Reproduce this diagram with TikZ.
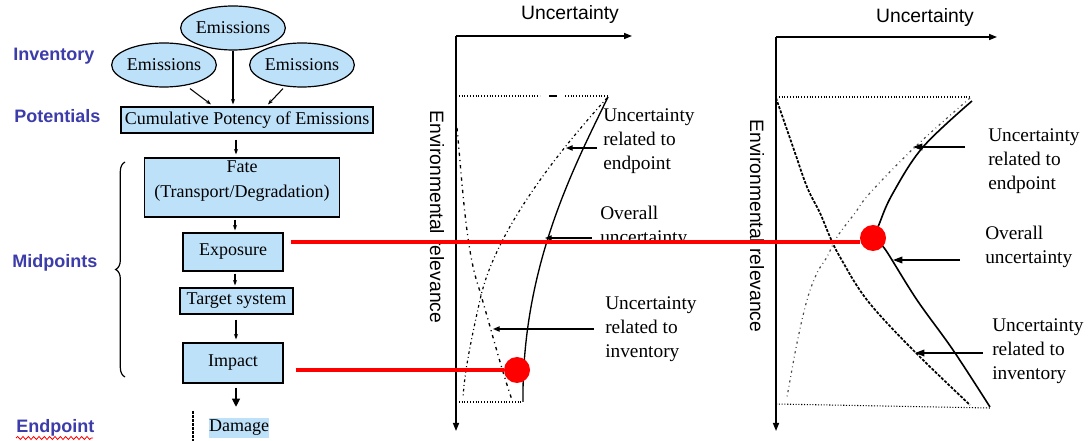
\documentclass[tikz,border=0pt]{standalone}
\usepackage{fontspec}
\setmainfont{Liberation Serif}
\setsansfont{Liberation Sans}
\usetikzlibrary{arrows.meta,shapes.geometric,calc,decorations.pathreplacing,decorations.pathmorphing}
\definecolor{boxblue}{RGB}{190,225,250}
\definecolor{labblue}{RGB}{60,60,170}
\tikzset{
  boxfont/.style={font=\fontsize{13.5}{18.75}\selectfont},
  box/.style={draw, line width=0.9pt, fill=boxblue, inner sep=0pt, boxfont, align=center},
  ell/.style={ellipse, draw, line width=0.9pt, fill=boxblue, minimum width=70.5pt, minimum height=33pt, inner sep=0pt, boxfont},
  stage/.style={font=\sffamily\bfseries\fontsize{13.5}{16}\selectfont, text=labblue, anchor=west, inner sep=0pt},
  note/.style={font=\fontsize{14.5}{18}\selectfont, align=left, anchor=west, inner sep=0pt},
  axlab/.style={font=\sffamily\fontsize{14.5}{17}\selectfont, inner sep=0pt},
  conn/.style={line width=0.8pt, -{Stealth[length=4pt,width=3pt]}},
  bigconn/.style={line width=0.8pt, -{Triangle[length=6pt,width=6pt]}},
  axis/.style={line width=1.1pt, -{Triangle[length=6pt,width=4.5pt]}},
  pointer/.style={line width=1pt, -{Triangle[length=5pt,width=4pt]}},
  bigpointer/.style={line width=1pt, -{Triangle[length=7pt,width=5pt]}},
  guide/.style={line width=0.8pt, dash pattern=on 0.8pt off 1.3pt},
  overall/.style={line width=1pt},
  redline/.style={red, line width=2.3pt},
  reddot/.style={circle, fill=red, minimum size=19.5pt, inner sep=0pt},
  cA/.style={line width=0.9pt, dash pattern=on 2pt off 2.2pt on 0.7pt off 2.2pt},
  cB/.style={line width=1pt, dash pattern=on 2.5pt off 3pt on 0.8pt off 3pt},
  cC/.style={line width=0.9pt, black!70, dash pattern=on 1.6pt off 2.6pt on 0.6pt off 2.6pt},
  cD/.style={line width=1.3pt, dash pattern=on 2.2pt off 1.1pt}
}
\begin{document}
\begin{tikzpicture}[x=0.75pt,y=-0.75pt]
\fill[white] (0,0) rectangle (1089,441);
\useasboundingbox (0,0) rectangle (1089,441);

% ---------- stage labels ----------
\node[stage] (linv) at (13,56) {Inventory};
\node[stage] (lpot) at (14,116) {Potentials};
\node[stage] (lmid) at (12,263) {Midpoints};
\node[stage] (lend) at (16,428) {Endpoint};
\draw[red, line width=0.6pt, decorate, decoration={snake, amplitude=1.1pt, segment length=4pt}] (16,438) -- (93,438);

% ---------- left flow ----------
\node[ell] (e0) at (233,28) {Emissions};
\node[ell] (e1) at (164,65) {Emissions};
\node[ell] (e2) at (302,65) {Emissions};

\node[box, minimum width=189pt, minimum height=19.5pt] (cum) at (247,120) {Cumulative Potency of Emissions};
\node[box, minimum width=146.25pt, minimum height=44.25pt] (fate) at (242,187.5) {};
\node[boxfont, align=center, inner sep=0pt] (fatetxt) at (242,181) {Fate\\(Transport/Degradation)};
\node[box, minimum width=75pt, minimum height=28.5pt] (exp) at (233,252) {Exposure};
\node[box, minimum width=84.75pt, minimum height=19.5pt] (tgt) at (236.5,301) {Target system};
\node[box, minimum width=75pt, minimum height=30pt] (imp) at (233,363) {\raisebox{4pt}{Impact}};
\node[fill=boxblue, minimum width=43.5pt, minimum height=15pt, inner sep=0pt, boxfont] (dam) at (239,428) {Damage};
\draw[line width=1.2pt, dash pattern=on 2pt off 1pt] (193,411) -- (193,441);

\draw[conn] ($(e1.south)+(26,1)$) -- ($(cum.north)+(-36,-2)$);
\draw[conn] (e0.south) -- ($(cum.north)+(-14,-2)$);
\draw[conn] ($(e2.south)+(-19,1)$) -- ($(cum.north)+(21,-2)$);
\draw[conn] ($(cum.south)+(-11,6)$) -- ($(fate.north)+(-6,-3)$);
\draw[conn] ($(fate.south)+(-7,2)$) -- ($(exp.north)+(2,-2)$);
\draw[conn] ($(exp.south)+(2,2)$) -- ($(tgt.north)+(-1.5,-2)$);
\draw[conn] ($(tgt.south)+(-0.5,5)$) -- ($(imp.north)+(3,-3)$);
\draw[bigconn] ($(imp.south)+(3,4)$) -- ($(dam.north)+(-3,-11)$);

\draw[line width=0.9pt, decorate, decoration={brace, amplitude=7pt}] (125,377) -- (125,162);

% ---------- chart 1 ----------
\node[axlab] (u1) at (570,15) {Uncertainty};
\node[axlab, rotate=-90] (r1) at (437,217) {Environmental relevance};
\coordinate (o1) at (456,36);
\draw[axis] (o1) -- (632,36);
\draw[axis] (o1) -- (456,431);
\draw[guide] (456,96) -- (540,96);
\draw[line width=0.8pt] (549,96) -- (557,96);
\draw[guide] (565,96) -- (608,96);
\draw[guide] (456,402) -- (523,402);
\draw[overall] (608,97) .. controls (575,165) and (525,260) .. (523,390) -- (523,402);
\draw[cA] (607,98) .. controls (560,150) and (495,230) .. (480,300) .. controls (470,345) and (465,370) .. (463,397);
\draw[cB] (457,128) .. controls (462,180) and (466,250) .. (478,285) .. controls (490,325) and (500,365) .. (512,400);

\node[note] (n1a) at (603,141) {Uncertainty\\related to\\endpoint};
\begin{scope}
\clip (595,200) rectangle (730,244);
\node[note] (n1b) at (600,227) {Overall\\uncertainty};
\end{scope}
\node[note] (n1c) at (605,329) {Uncertainty\\related to\\inventory};
\draw[pointer] (597,148) -- (566,148);
\draw[pointer] (592,238) -- (545,238);
\draw[pointer] (594,329) -- (493,329);

% ---------- chart 2 ----------
\node[axlab] (u2) at (925,18) {Uncertainty};
\node[axlab, rotate=-90] (r2) at (757,226) {Environmental relevance};
\coordinate (o2) at (776,37);
\draw[axis] (o2) -- (997,37);
\draw[axis] (o2) -- (776,431);
\draw[guide] (776,97) -- (970,97);
\draw[guide] (776,404) -- (990,408);
\draw[overall, line width=1.2pt] plot[smooth, tension=0.6] coordinates {(972,101) (923,147) (893,193) (880,222) (876,237) (887,252) (917,300) (953,350) (990,407)};
\draw[cC] plot[smooth, tension=0.6] coordinates {(970,98) (915,147) (870,193) (855,213) (837,237) (827,257) (817,273) (807,300) (797,343) (787,397)};
\draw[cD] plot[smooth, tension=0.6] coordinates {(776,98) (793,147) (807,187) (820,213) (830,237) (840,257) (867,300) (913,350) (970,405)};

\node[note] (n2a) at (988,161) {Uncertainty\\related to\\endpoint};
\node[note] (n2b) at (985,247) {Overall\\uncertainty};
\node[note] (n2c) at (992,351) {Uncertainty\\related to\\inventory};
\draw[bigpointer] (965,147) -- (913,147);
\draw[bigpointer] (960,260) -- (893,260);
\draw[bigpointer] (983,353) -- (915,353);

% ---------- red links ----------
\node[reddot] (d1) at (517,370) {};
\node[reddot] (d2) at (873,238) {};
\coordinate (rs1) at ($(exp.east)+(7,-10)$);
\coordinate (rs2) at ($(imp.east)+(12,7)$);
\draw[redline] (rs1) -- (rs1 -| d2.west);
\draw[redline] (rs2) -- (rs2 -| d1.west);
\end{tikzpicture}
\end{document}
